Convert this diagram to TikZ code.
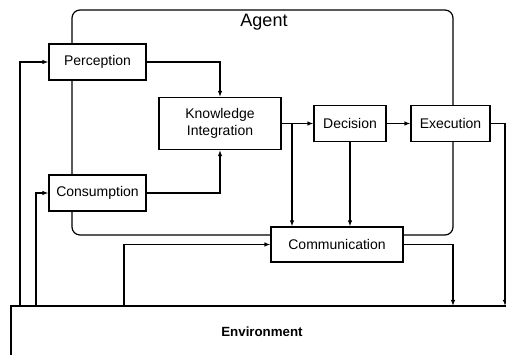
\documentclass[tikz,border=0pt]{standalone}
\usepackage{fontspec}
\setmainfont{Liberation Sans}
\usetikzlibrary{arrows.meta}
\begin{document}
\begin{tikzpicture}[x=1pt,y=-1pt,
  line width=1.2pt,
  box/.style={draw,fill=white,inner sep=0pt,font=\fontsize{14}{17}\selectfont,align=center},
  arr/.style={-{Latex[length=6pt,width=4.5pt]}},
  agentbox/.style={draw,rounded corners=8pt}]
\useasboundingbox (0,0) rectangle (506,355);
\clip (0,0) rectangle (506,355);
% Agent boundary
\draw[agentbox] (72,10) rectangle (453,235);
\node[font=\fontsize{18}{20}\selectfont] (agent) at (264,22) {Agent};
% Boxes
\node[box,minimum width=97pt,minimum height=36pt] (per) at (97.5,62) {Perception};
\node[box,minimum width=122pt,minimum height=52pt] (ki) at (220,123.5) {Knowledge\\Integration};
\node[box,minimum width=72pt,minimum height=36pt] (dec) at (350,123.5) {Decision};
\node[box,minimum width=79pt,minimum height=36pt] (exe) at (450.5,123.5) {Execution};
\node[box,minimum width=97pt,minimum height=36pt] (con) at (97.5,193) {Consumption};
\node[box,minimum width=132pt,minimum height=35pt] (com) at (337,244.5) {Communication};
% Environment
\node[draw,minimum width=502pt,minimum height=52pt,inner sep=0pt,font=\bfseries\fontsize{13.3}{16}\selectfont] (env) at (262,332) {Environment};
% helper coordinates on the environment top
\coordinate (eP) at (20,306);
\coordinate (eC) at (36,306);
\coordinate (eM) at (124,306);
\coordinate (eA) at (453,306);
\coordinate (eB) at (505,306);
\coordinate (br) at (292,123.5);
% Connectors
\draw[arr] (per.east) -| (ki.north);
\draw[arr] (con.east) -| (ki.south);
\draw[arr] (ki.east) -- (dec.west);
\draw[arr] (br) -- (br |- com.north);
\draw[arr] (dec.south) -- (dec.south |- com.north);
\draw[arr] (dec.east) -- (exe.west);
\draw[arr] (exe.east) -| (eB);
\draw[arr] (com.east) -| (eA);
\draw[arr] (eM) |- (com.west);
\draw[arr] (eP) |- (per.west);
\draw[arr] (eC) |- (con.west);
\end{tikzpicture}
\end{document}
